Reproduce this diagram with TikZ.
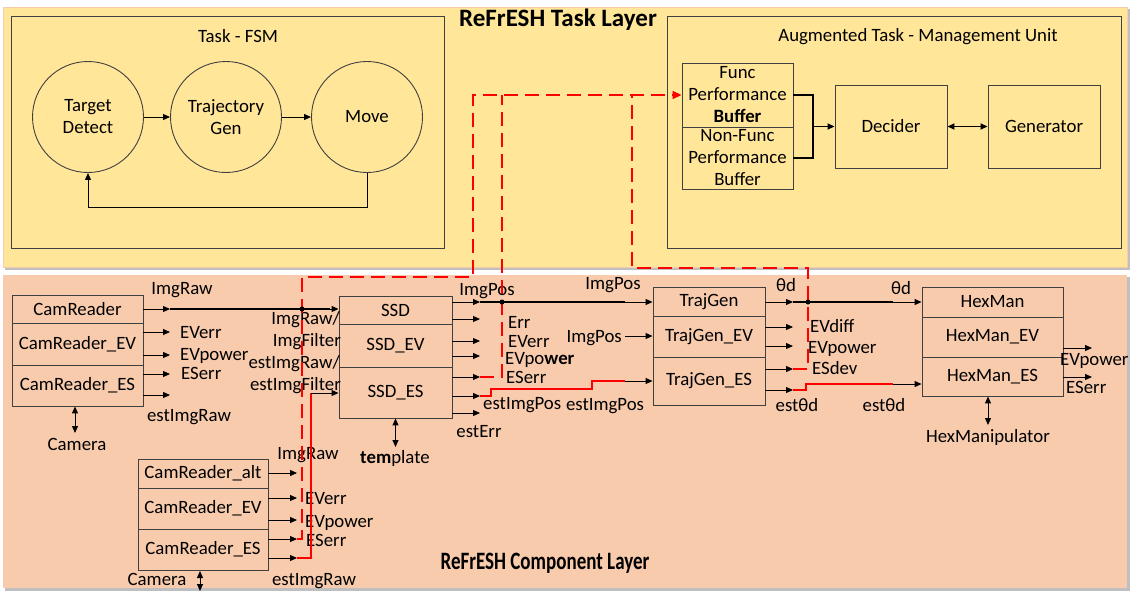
\documentclass[tikz,border=0pt]{standalone}
\usepackage{fontspec}
\usepackage{graphicx}
\setmainfont{Carlito}
\usetikzlibrary{arrows.meta,calc}
\definecolor{taskc}{HTML}{FFE699}
\definecolor{compc}{HTML}{F8CBAD}
\definecolor{boxc}{HTML}{404040}
\definecolor{shadowc}{HTML}{BFBFBF}
\begin{document}
\begin{tikzpicture}[x=1pt,y=-1pt,font=\fontsize{18.8}{22}\selectfont,
  bx/.style={draw=boxc, line width=0.9pt, inner sep=0pt, align=center},
  st/.style={circle, draw=boxc, line width=0.9pt, minimum size=111, inner sep=0pt, align=center},
  lbl/.style={inner sep=0pt, text height=12pt, text depth=0pt},
  arr/.style={-{Triangle[length=7pt,width=6pt]}, line width=1pt},
  darr/.style={{Triangle[length=7pt,width=6pt]}-{Triangle[length=7pt,width=6pt]}, line width=1pt},
  thk/.style={line width=2.6pt},
  thk2/.style={line width=1.8pt},
  rsolid/.style={draw=red, line width=2.8pt},
  rdash/.style={draw=red, line width=1.8pt, dash pattern=on 14pt off 7pt},
  jdot/.style={circle, fill=black, inner sep=0pt, minimum size=5pt},
  ttl/.style={inner sep=0pt, font=\fontsize{25}{27}\selectfont\bfseries}
]
\useasboundingbox (0,0) rectangle (1131,592);
% layers
\fill[shadowc] (5,9) rectangle (1130,270);
\fill[taskc, draw=compc, line width=1pt] (3,7) rectangle (1127,267);
\fill[shadowc] (5,277) rectangle (1130,591);
\fill[compc] (3,275) rectangle (1127,588);
\node[ttl] (tl) at (558,20) {ReFrESH Task Layer};
\node[ttl] (cl) at (545,563) {\scalebox{0.76}[1]{ReFrESH Component Layer}};

% ---------- Task FSM
\node[bx, minimum width=433, minimum height=232, anchor=north west] (fsm) at (11,16) {};
\node[lbl] (fsmt) at (238,36) {Task - FSM};
\node[st] (td) at (88,117) {Target\\Detect};
\node[st] (tg) at (226,117) {Trajectory\\Gen};
\node[st] (mv) at (367,117) {Move};
\draw[arr] (td) -- (tg);
\draw[arr] (tg) -- (mv);
\draw[arr] (mv.south) -- ++(0,35) -| (td.south);

% ---------- Augmented Task Management Unit
\node[bx, minimum width=454, minimum height=232, anchor=north west] (atmu) at (667,16) {};
\node[lbl] (atmut) at (918,35) {Augmented Task - Management Unit};
\node[bx, minimum width=111, minimum height=64] (fb) at (737.5,95) {Func\\Performance\\\textbf{Buffer}};
\node[bx, minimum width=111, minimum height=62] (nfb) at (737.5,158) {Non-Func\\Performance\\Buffer};
\node[bx, minimum width=112, minimum height=83] (dec) at (891,126.5) {Decider};
\node[bx, minimum width=112, minimum height=83] (gen) at (1044,126.5) {Generator};
\coordinate (bj) at (813,126.5);
\draw[thk2] (fb.east) -| (bj);
\draw[thk2] (nfb.east) -| (bj);
\draw[arr,line width=1.8pt] (bj) -- (dec.west);
\draw[darr,line width=1.8pt] (dec) -- (gen);

% ---------- CamReader stack
\node[bx, minimum width=131, minimum height=28] (cr) at (77.5,309) {CamReader};
\node[bx, minimum width=131, minimum height=42] (crev) at (77.5,344) {CamReader\_EV};
\node[bx, minimum width=131, minimum height=41] (cres) at (77.5,385.5) {CamReader\_ES};
\coordinate (crImg) at (170,309);
\coordinate (crEVerr) at (170,332);
\coordinate (crEVp) at (170,355);
\coordinate (crES) at (170,374);
\coordinate (crEst) at (170,395);
\draw[arr] (cr.east |- crImg) -- (crImg);
\draw[arr] (crev.east |- crEVerr) -- (crEVerr);
\draw[arr] (crev.east |- crEVp) -- (crEVp);
\draw[arr] (cres.east |- crES) -- (crES);
\draw[arr] (cres.east |- crEst) -- (crEst);
\node[lbl] (lImgRaw1) at (182,288) {ImgRaw};
\node[lbl, anchor=west] (lEVerr1) at (180,332) {EVerr};
\node[lbl, anchor=west] (lEVp1) at (180,354) {EVpower};
\node[lbl, anchor=west] (lES1) at (181,373) {ESerr};
\node[lbl] (lEst1) at (189,415) {estImgRaw};
\node[lbl] (cam1) at (77,444) {Camera};
\coordinate (camA) at (75,433);
\draw[darr] (cres.south -| camA) -- (camA);

% ---------- SSD stack
\node[bx, minimum width=113, minimum height=28] (ssd) at (395.5,310) {SSD};
\node[bx, minimum width=113, minimum height=43] (ssdev) at (395.5,345.5) {SSD\_EV};
\node[bx, minimum width=113, minimum height=51] (ssdes) at (395.5,392.5) {SSD\_ES};
\node[lbl, anchor=east] (lin1) at (340,318) {ImgRaw/};
\node[lbl, anchor=east] (lin2) at (341,340) {ImgFilter};
\node[lbl, anchor=east] (lin3) at (340,362) {estImgRaw/};
\node[lbl, anchor=east] (lin4) at (341,384) {estImgFilter};
\coordinate (ssdInA) at (330,309);
\draw[thk] (crImg) -- (ssdInA);
\draw[arr] (ssdInA) -- (ssd.west |- ssdInA);
\coordinate (sImg) at (480,302);
\coordinate (sErr) at (480,319);
\coordinate (sEVerr) at (480,341);
\coordinate (sEVp) at (480,356);
\coordinate (sES) at (480,377);
\coordinate (sEst) at (480,396);
\coordinate (sEstErr) at (480,413);
\draw[arr] (ssd.east |- sImg) -- (sImg);
\draw[arr] (ssd.east |- sErr) -- (sErr);
\draw[arr] (ssdev.east |- sEVerr) -- (sEVerr);
\draw[arr] (ssdev.east |- sEVp) -- (sEVp);
\draw[arr] (ssdes.east |- sES) -- (sES);
\draw[arr] (ssdes.east |- sEst) -- (sEst);
\draw[arr] (ssdes.east |- sEstErr) -- (sEstErr);
\node[lbl] (lImgPos1) at (487,289) {ImgPos};
\node[lbl, anchor=west] (lErr) at (508,322) {Err};
\node[lbl, anchor=west] (lEVerr2) at (508,341) {EVerr};
\node[lbl, anchor=west] (lEVp2) at (505,358) {EVpo\textbf{wer}};
\node[lbl, anchor=west] (lES2) at (506,377) {ESerr};
\node[lbl, anchor=west] (lEst2) at (483,403) {estImgPos};
\node[lbl] (lEstErr) at (479,431) {estErr};
\node[lbl] (tmpl) at (395,457) {\textbf{tem}plate};
\coordinate (tmplA) at (395.5,447);
\draw[darr] (ssdes.south) -- (tmplA);

% ---------- TrajGen stack
\node[bx, minimum width=112, minimum height=29] (tgn) at (709,301.5) {TrajGen};
\node[bx, minimum width=112, minimum height=41] (tgev) at (709,336.5) {TrajGen\_EV};
\node[bx, minimum width=112, minimum height=48] (tges) at (709,381) {TrajGen\_ES};
\coordinate (tgInA) at (625,302);
\draw[thk] (sImg) -- (tgInA);
\draw[arr] (tgInA) -- (tgn.west |- tgInA);
\node[lbl] (lImgPos2) at (613,283) {ImgPos};
\node[lbl, anchor=east] (ip2) at (622,336) {ImgPos};
\draw[arr] ([xshift=3pt]ip2.east) -- (tgev.west |- ip2.east);
\node[lbl] (lEst3) at (605,404) {estImgPos};
\coordinate (rA) at (625,381);
\draw[rsolid] (sEst) -| (491,389) -| (592,381) -- (rA);
\draw[arr] (rA) -- (tges.west |- rA);
\coordinate (tTh) at (793,302);
\coordinate (tEVd) at (793,327);
\coordinate (tEVp) at (793,346);
\coordinate (tESd) at (793,369);
\coordinate (tEst) at (793,390);
\draw[arr] (tgn.east |- tTh) -- (tTh);
\draw[arr] (tgev.east |- tEVd) -- (tEVd);
\draw[arr] (tgev.east |- tEVp) -- (tEVp);
\draw[arr] (tges.east |- tESd) -- (tESd);
\draw[arr] (tges.east |- tEst) -- (tEst);
\node[lbl] (lth1) at (786,285) {θd};
\node[lbl, anchor=west] (lEVd) at (810,326) {EVdiff};
\node[lbl, anchor=west] (lEVp3) at (808,347) {EVpower};
\node[lbl, anchor=west] (lESd) at (812,368) {ESdev};
\node[lbl] (lestth1) at (797,405) {estθd};

% ---------- HexMan stack
\node[bx, minimum width=141, minimum height=30] (hm) at (992.5,302) {HexMan};
\node[bx, minimum width=141, minimum height=40] (hmev) at (992.5,337) {HexMan\_EV};
\node[bx, minimum width=141, minimum height=39] (hmes) at (992.5,376.5) {HexMan\_ES};
\coordinate (hmInA) at (893,302);
\draw[thk] (tTh) -- (hmInA);
\draw[arr] (hmInA) -- (hm.west |- hmInA);
\coordinate (hmInB) at (893,384);
\draw[rsolid] (tEst) -| (806,384) -- (hmInB);
\draw[arr] (hmInB) -- (hmes.west |- hmInB);
\node[lbl] (lth2) at (901,288) {θd};
\node[lbl] (lestth2) at (884,405) {estθd};
\coordinate (hEVp) at (1092,348);
\coordinate (hES) at (1092,377);
\draw[arr] (hmev.east |- hEVp) -- (hEVp);
\draw[arr] (hmes.east |- hES) -- (hES);
\node[lbl, anchor=west] (lEVp4) at (1060,359) {EVpower};
\node[lbl, anchor=west] (lES4) at (1066,387) {ESerr};
\node[lbl] (hexm) at (988,436) {HexManipulator};
\coordinate (hexA) at (988,425);
\draw[darr] (hmes.south -| hexA) -- (hexA);

% ---------- CamReader_alt stack
\node[bx, minimum width=130, minimum height=29] (cra) at (203,473.5) {CamReader\_alt};
\node[bx, minimum width=130, minimum height=41] (craev) at (203,508.5) {CamReader\_EV};
\node[bx, minimum width=130, minimum height=41] (craes) at (203,549.5) {CamReader\_ES};
\coordinate (aImg) at (297,473);
\coordinate (aEVerr) at (297,498);
\coordinate (aEVp) at (297,520);
\coordinate (aES) at (297,539);
\coordinate (aEst) at (297,558);
\draw[arr] (cra.east |- aImg) -- (aImg);
\draw[arr] (craev.east |- aEVerr) -- (aEVerr);
\draw[arr] (craev.east |- aEVp) -- (aEVp);
\draw[arr] (craes.east |- aES) -- (aES);
\draw[arr] (craes.east |- aEst) -- (aEst);
\node[lbl] (lImgRaw3) at (308,453) {ImgRaw};
\node[lbl, anchor=west] (lEVerr5) at (305,498) {EVerr};
\node[lbl, anchor=west] (lEVp5) at (305,521) {EVpower};
\node[lbl, anchor=west] (lES5) at (306,540) {ESerr};
\node[lbl] (lEst5) at (314,579) {estImgRaw};
\node[lbl] (cam2) at (157,579) {Camera};
\coordinate (camB) at (200,591);
\draw[darr] (200,571) -- (camB);

% red solid estImgRaw path
\coordinate (rB) at (311,393);
\draw[rsolid] (aEst) -| (rB);
\draw[arr] (rB) -- (ssdes.west |- rB);

% red dashed error paths
\draw[rdash, -{Triangle[length=9pt,width=8pt]}] (aES) -| (302,277) -| (473,95) -- (fb.west);
\draw[rdash] (sES) -| (502,95);
\draw[rdash] (tESd) -| (808,268) -| (632,95);

% junction dots
\node[jdot] (j1) at (302,309) {};
\node[jdot] (j2) at (502,302) {};
\node[jdot] (j3) at (808,302) {};
\end{tikzpicture}
\end{document}
